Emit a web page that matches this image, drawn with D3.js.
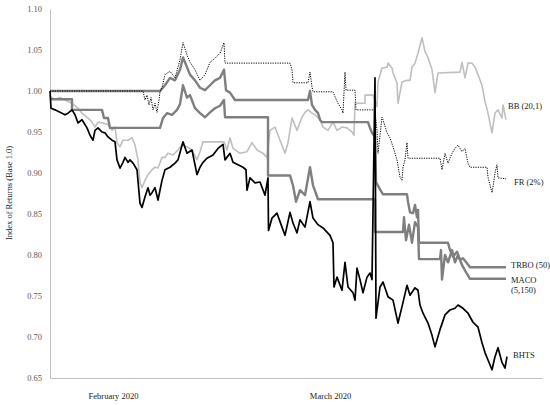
<!DOCTYPE html>
<html><head><meta charset="utf-8">
<script src="https://cdn.jsdelivr.net/npm/d3@7"></script>
<style>body{margin:0;background:#fff;} svg{display:block;font-family:"Liberation Serif","Times New Roman",serif;}</style>
</head><body><svg id="c" width="550" height="405"></svg>
<script>
// ---- data (observation index, index value) ----
const yTicks = [0.65,0.70,0.75,0.80,0.85,0.90,0.95,1.00,1.05,1.10];
const monthLabels = ["February 2020","March 2020"];
const monthPos = [63, 280];
const seriesNames = ["BB (20,1)","FR (2%)","TRBO (50)","MACO (5,150)","BHTS"];
const labelValues = [0.982, 0.889, 0.788, 0.770, 0.678];

const bhts = [[0,1.000],[1,0.979],[5,0.977],[10,0.974],[15,0.971],[18,0.973],[22,0.977],[25,0.971],[28,0.961],[32,0.965],[37,0.955],[40,0.946],[43,0.940],[45,0.952],[48,0.955],[52,0.950],[55,0.949],[58,0.944],[62,0.940],[65,0.938],[67,0.916],[70,0.906],[73,0.913],[75,0.919],[78,0.913],[80,0.916],[83,0.912],[87,0.904],[90,0.863],[92,0.858],[95,0.871],[98,0.882],[100,0.873],[102,0.876],[105,0.882],[108,0.867],[110,0.879],[112,0.891],[115,0.904],[120,0.907],[125,0.912],[128,0.916],[133,0.938],[137,0.924],[142,0.928],[147,0.898],[150,0.907],[153,0.913],[157,0.918],[163,0.922],[168,0.930],[173,0.935],[175,0.916],[180,0.924],[183,0.913],[188,0.910],[193,0.907],[196,0.904],[197,0.879],[200,0.894],[205,0.888],[210,0.889],[215,0.873],[218,0.894],[218.5,0.830],[222,0.845],[227,0.851],[232,0.834],[235,0.824],[240,0.852],[243,0.839],[247,0.827],[250,0.843],[255,0.834],[260,0.865],[263,0.845],[268,0.837],[273,0.833],[280,0.824],[283,0.815],[284,0.761],[287,0.773],[292,0.757],[295,0.791],[298,0.761],[303,0.754],[305,0.745],[307,0.784],[310,0.770],[313,0.754],[317,0.773],[320,0.778],[322,0.770],[325,1.016],[326,0.723],[330,0.761],[333,0.767],[338,0.749],[343,0.745],[348,0.717],[352,0.737],[357,0.763],[360,0.751],[365,0.760],[368,0.757],[370,0.739],[373,0.729],[378,0.717],[382,0.702],[385,0.688],[390,0.709],[395,0.727],[400,0.733],[405,0.735],[408,0.739],[413,0.735],[418,0.729],[423,0.718],[428,0.712],[432,0.693],[435,0.681],[438,0.672],[442,0.660],[445,0.676],[448,0.687],[452,0.669],[455,0.662],[457,0.676]];

const maco = [[0,0.990],[22,0.990],[22,0.977],[52,0.977],[54,0.967],[58,0.967],[60,0.955],[110,0.955],[113,0.967],[117,0.973],[122,0.971],[127,0.977],[130,0.984],[133,1.007],[137,0.992],[140,0.995],[145,0.979],[150,0.973],[155,0.968],[160,0.974],[165,0.979],[170,0.982],[174,0.989],[175,0.968],[218,0.968],[218,0.897],[240,0.897],[243,0.885],[246,0.865],[250,0.879],[255,0.873],[260,0.907],[263,0.885],[268,0.868],[325,0.868],[325,0.828],[353,0.828],[354,0.846],[356,0.818],[359,0.837],[362,0.815],[365,0.840],[368,0.834],[369,0.795],[390,0.795],[391,0.806],[392,0.770],[395,0.800],[398,0.791],[402,0.806],[405,0.791],[408,0.800],[412,0.788],[416,0.779],[420,0.771],[456,0.771]];

const trbo = [[0,1.000],[110,1.000],[115,1.007],[120,1.016],[125,1.013],[130,1.026],[133,1.041],[136,1.032],[140,1.020],[145,1.013],[150,1.004],[155,1.001],[160,1.007],[165,1.013],[170,1.016],[174,1.026],[176,1.001],[180,0.998],[185,0.989],[258,0.989],[260,1.000],[262,0.983],[265,0.977],[268,0.973],[270,0.965],[272,0.962],[318,0.962],[320,0.955],[322,0.949],[325,0.944],[326,0.889],[330,0.880],[333,0.874],[357,0.874],[358,0.865],[360,0.852],[363,0.851],[365,0.861],[367,0.846],[368,0.855],[369,0.815],[398,0.815],[400,0.806],[403,0.798],[407,0.804],[410,0.794],[413,0.796],[417,0.790],[420,0.785],[456,0.785]];

const bb = [[0,0.993],[5,0.990],[10,0.992],[15,0.989],[22,0.985],[28,0.979],[32,0.973],[38,0.967],[42,0.962],[45,0.956],[48,0.962],[53,0.961],[58,0.959],[62,0.952],[65,0.956],[67,0.937],[70,0.932],[73,0.940],[78,0.940],[82,0.943],[85,0.934],[88,0.916],[90,0.888],[92,0.882],[95,0.891],[98,0.898],[102,0.904],[105,0.907],[108,0.906],[112,0.919],[115,0.919],[118,0.924],[123,0.922],[128,0.928],[132,0.934],[137,0.932],[142,0.928],[147,0.916],[150,0.926],[153,0.938],[174,0.938],[177,0.928],[180,0.943],[183,0.930],[190,0.924],[197,0.926],[202,0.937],[207,0.928],[213,0.924],[217,0.919],[220,0.952],[225,0.956],[230,0.940],[235,0.924],[238,0.937],[242,0.967],[247,0.952],[252,0.968],[255,0.974],[258,0.977],[262,0.973],[265,0.971],[270,0.965],[273,0.956],[278,0.952],[283,0.962],[287,0.952],[292,0.956],[297,0.955],[302,0.950],[304,0.946],[305,0.985],[315,0.985],[315,0.995],[323,0.995],[327,0.981],[328,1.011],[332,1.028],[337,1.029],[338,1.034],[342,1.028],[343,1.022],[347,1.010],[348,0.985],[352,1.011],[357,1.013],[360,1.013],[362,1.029],[365,1.034],[368,1.046],[372,1.065],[375,1.048],[378,1.041],[382,1.026],[385,0.998],[388,1.022],[410,1.023],[412,1.035],[415,1.016],[418,1.034],[422,1.034],[425,1.029],[428,1.020],[432,1.007],[435,0.987],[438,0.973],[442,0.949],[445,0.973],[448,0.977],[452,0.967],[453,0.983],[456,0.965]];

const fr = [[0,1.000],[93,1.000],[95,0.989],[97,0.995],[99,0.983],[101,0.992],[103,0.977],[105,0.985],[107,0.974],[109,0.989],[110,0.999],[112,1.004],[115,1.020],[120,1.024],[125,1.016],[130,1.038],[133,1.059],[137,1.044],[140,1.035],[145,1.026],[150,1.013],[155,1.020],[160,1.035],[165,1.040],[170,1.046],[174,1.059],[175,1.034],[240,1.034],[242,1.026],[243,1.010],[258,1.010],[260,1.023],[262,1.005],[263,0.999],[283,0.999],[285,0.993],[288,0.985],[292,0.977],[293,0.973],[295,1.023],[296,1.001],[305,1.001],[306,0.977],[323,0.977],[325,0.975],[327,0.952],[328,0.924],[332,0.968],[333,0.965],[337,0.949],[340,0.943],[343,0.932],[347,0.916],[350,0.895],[352,0.891],[353,0.907],[355,0.916],[357,0.937],[358,0.918],[390,0.918],[392,0.904],[395,0.924],[398,0.912],[402,0.924],[405,0.930],[408,0.934],[412,0.926],[415,0.930],[418,0.912],[420,0.907],[437,0.907],[438,0.895],[442,0.876],[443,0.883],[445,0.900],[447,0.910],[448,0.894],[456,0.893]];

// ---- drawing ----
const svg = d3.select("#c");
const x = d3.scaleLinear().domain([0,492]).range([50,542]);
const y = d3.scaleLinear().domain([0.65,1.10]).range([378,9]);

const yAxis = svg.append("g").attr("transform","translate(50,0)")
  .call(d3.axisLeft(y).tickValues(yTicks).tickFormat(d3.format(".2f")).tickSize(0).tickPadding(8));
yAxis.select(".domain").attr("stroke","#bfbfbf").attr("stroke-width",1);
yAxis.selectAll("text").attr("fill","#595959").attr("font-size","8.5px").attr("font-family","Liberation Serif");

const xAxis = svg.append("g").attr("transform","translate(0,378)")
  .call(d3.axisBottom(x).tickValues(monthPos).tickFormat((d,i)=>monthLabels[i]).tickSize(0).tickPadding(15));
xAxis.select(".domain").attr("stroke","#bfbfbf").attr("stroke-width",1);
xAxis.selectAll("text").attr("fill","#1a1a1a").attr("font-size","8.5px").attr("font-family","Liberation Serif");

svg.append("text").attr("transform","translate(12,193) rotate(-90)")
  .attr("text-anchor","middle").attr("font-size","8.5px").attr("fill","#1a1a1a")
  .text("Index of Returns (Base 1.0)");

const line = d3.line().x(d=>x(d[0])).y(d=>y(d[1]));
const styles = [
  {data: bb,   stroke:"#bfbfbf", w:1.6, dash:null},
  {data: maco, stroke:"#7f7f7f", w:2.4, dash:null},
  {data: trbo, stroke:"#7f7f7f", w:2.4, dash:null},
  {data: fr,   stroke:"#000",    w:1,   dash:"1.2,1.2"},
  {data: bhts, stroke:"#000",    w:1.7, dash:null}
];
styles.forEach(s=>{
  svg.append("path").datum(s.data).attr("d",line)
    .attr("fill","none").attr("stroke",s.stroke).attr("stroke-width",s.w)
    .attr("stroke-linejoin","round")
    .attr("stroke-dasharray",s.dash);
});

// labels
const lab = svg.append("g").attr("font-size","8.5px").attr("fill","#1a1a1a");
const lx = [508,514,511,511,513];
seriesNames.forEach((n,i)=>{
  const t = lab.append("text").attr("x",lx[i]).attr("y",y(labelValues[i])).attr("dy","0.35em");
  if (n.startsWith("MACO")) {
    const parts = n.split(" ");
    t.append("tspan").attr("x",lx[i]).text(parts[0]);
    t.append("tspan").attr("x",lx[i]).attr("dy","1.2em").text(parts[1]);
  } else t.text(n);
});
</script></body></html>
